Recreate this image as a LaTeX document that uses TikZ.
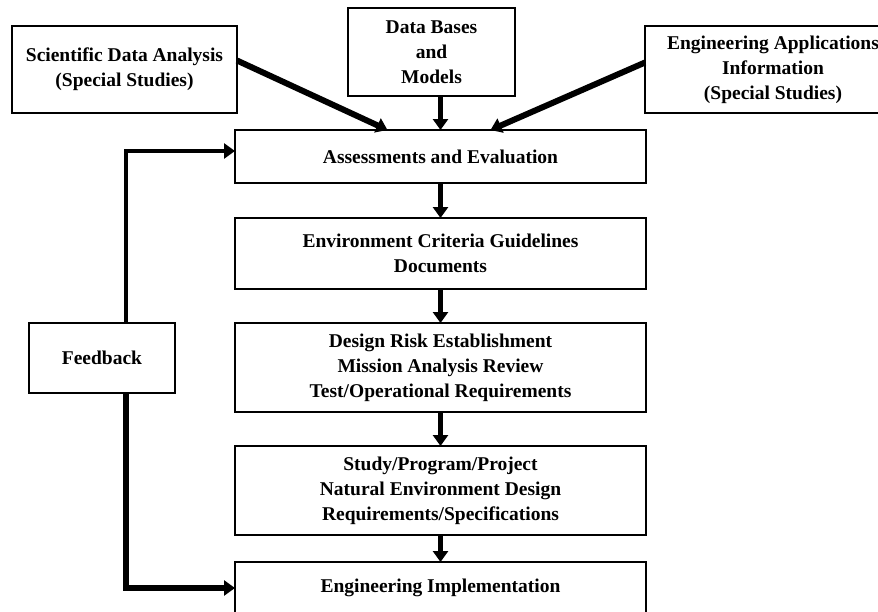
\documentclass[tikz,border=0pt]{standalone}
\usepackage{fontspec}
\setmainfont{Liberation Serif}
\usetikzlibrary{positioning, arrows.meta}

\begin{document}
\begin{tikzpicture}[x=1pt, y=1pt,
        every node/.style={draw, line width=2.6pt, align=center, inner sep=2pt, outer sep=0pt,
            font=\bfseries\fontsize{19.5}{25}\selectfont},
        mainbox/.style={minimum width=411pt},
        arrow/.style={-{Triangle[length=11pt, width=15pt]}, line width=5pt}
    ]
    \useasboundingbox (0,0) rectangle (878,-611);

    % Sources
    \node [minimum width=225pt, minimum height=87pt] (sci) at (124.5,-69.5) {Scientific Data Analysis\\(Special Studies)};
    \node [minimum width=167pt, minimum height=88pt] (data) at (431.5,-52) {Data Bases\\and\\Models};
    \node [minimum width=256pt, minimum height=87pt] (eng) at (773,-69.5) {Engineering Applications\\Information\\(Special Studies)};

    % Main chain
    \node [mainbox, minimum height=53pt] (assess) at (440.5,-156.5) {Assessments and Evaluation};
    \node [mainbox, minimum height=71pt, below=35pt of assess] (env) {Environment Criteria Guidelines\\Documents};
    \node [mainbox, minimum height=89pt, below=34pt of env] (design) {Design Risk Establishment\\Mission Analysis Review\\Test/Operational Requirements};
    \node [mainbox, minimum height=89pt, below=34pt of design] (study) {Study/Program/Project\\Natural Environment Design\\Requirements/Specifications};
    \node [mainbox, minimum height=52pt, below=27pt of study] (impl) {Engineering Implementation};

    \node [minimum width=146pt, minimum height=70pt] (fb) at (102,-358) {Feedback};

    % Arrows
    \draw[arrow, line width=6pt] ([yshift=9pt]sci.east) -- ([xshift=-53pt]assess.north);
    \draw[arrow] (data.south -| assess.north) -- (assess.north);
    \draw[arrow, line width=6pt] ([yshift=7pt]eng.west) -- ([xshift=50pt]assess.north);

    \draw[arrow] (assess) -- (env);
    \draw[arrow] (env) -- (design);
    \draw[arrow] (design) -- (study);
    \draw[arrow] (study) -- (impl);

    \draw[arrow, line width=4.5pt] ([xshift=24pt]fb.north) |- ([yshift=5.5pt]assess.west);
    \draw[arrow, line width=5.5pt] ([xshift=24pt]fb.south) |- (impl.west);

\end{tikzpicture}
\end{document}
